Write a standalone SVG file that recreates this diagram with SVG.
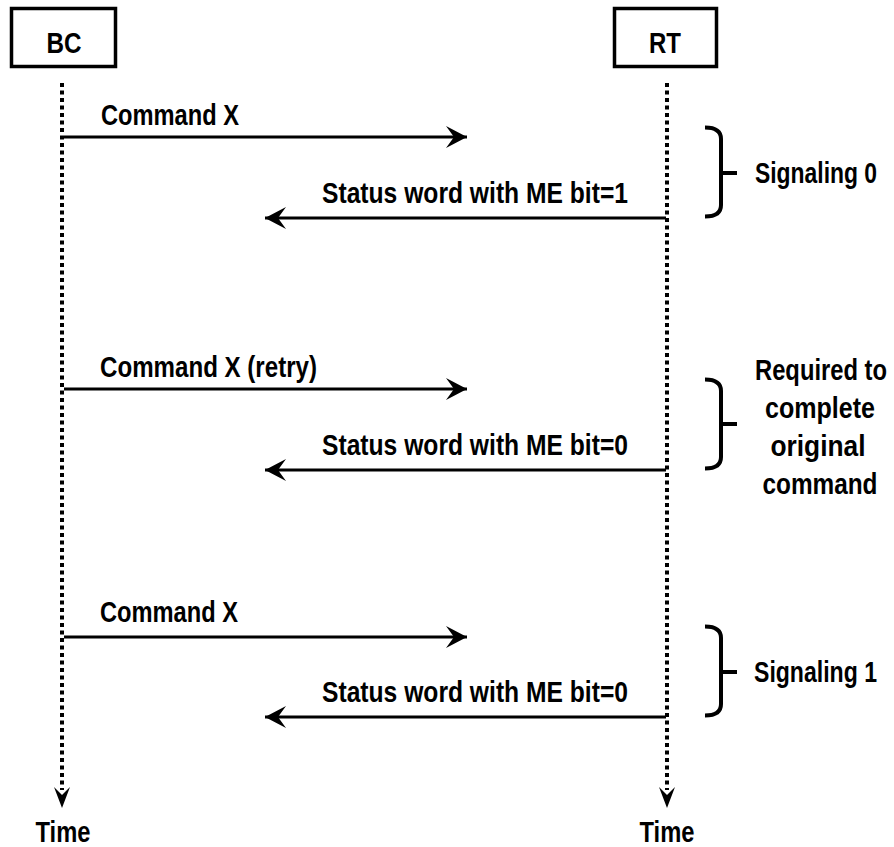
<svg xmlns="http://www.w3.org/2000/svg" width="894" height="847" viewBox="0 0 894 847">
<style>
  text { font-family: "Liberation Sans Narrow", "Liberation Sans", Arial, sans-serif; font-weight: bold; font-size: 29px; fill: #000; }
  .box { fill: #fff; stroke: #000; stroke-width: 3.5; }
  .life { stroke: #000; stroke-width: 4; stroke-dasharray: 4 3.5; fill: none; }
  .msg { stroke: #000; stroke-width: 3; fill: none; }
  .brace { stroke: #000; stroke-width: 4; fill: none; stroke-linecap: butt; }
</style>
<defs>
  <marker id="ah" markerUnits="userSpaceOnUse" markerWidth="26" markerHeight="26" refX="0" refY="0" viewBox="-24 -13 26 26" orient="auto">
    <path d="M0,0 L-21,-11 L-13,0 L-21,11 Z" fill="#000"/>
  </marker>
</defs>
<rect width="894" height="847" fill="#fff"/>

<g id="node-BC">
  <rect class="box" x="11.5" y="8.5" width="104" height="58"/>
  <text x="64" y="53" text-anchor="middle" textLength="35" lengthAdjust="spacingAndGlyphs">BC</text>
</g>
<g id="node-RT">
  <rect class="box" x="614.5" y="8.5" width="102" height="58"/>
  <text x="665" y="53" text-anchor="middle" textLength="32" lengthAdjust="spacingAndGlyphs">RT</text>
</g>

<g id="lifelines">
  <line class="life" x1="62" y1="83" x2="62" y2="790"/>
  <line class="life" x1="667" y1="83" x2="667" y2="790"/>
  <path d="M62,808 L54,787 L62,795 L70,787 Z" fill="#000"/>
  <path d="M667,808 L659,787 L667,795 L675,787 Z" fill="#000"/>
</g>

<g id="connectors">
  <line class="msg" x1="64" y1="137" x2="467" y2="137" marker-end="url(#ah)"/>
  <line class="msg" x1="666" y1="218" x2="265" y2="218" marker-end="url(#ah)"/>
  <line class="msg" x1="64" y1="389" x2="467" y2="389" marker-end="url(#ah)"/>
  <line class="msg" x1="666" y1="470" x2="265" y2="470" marker-end="url(#ah)"/>
  <line class="msg" x1="64" y1="637" x2="467" y2="637" marker-end="url(#ah)"/>
  <line class="msg" x1="666" y1="717" x2="265" y2="717" marker-end="url(#ah)"/>
</g>

<g id="labels">
  <text x="101" y="125" textLength="138" lengthAdjust="spacingAndGlyphs">Command X</text>
  <text x="322" y="203" textLength="306" lengthAdjust="spacingAndGlyphs">Status word with ME bit=1</text>
  <text x="100" y="377" textLength="217" lengthAdjust="spacingAndGlyphs">Command X (retry)</text>
  <text x="322" y="455" textLength="306" lengthAdjust="spacingAndGlyphs">Status word with ME bit=0</text>
  <text x="100" y="622" textLength="138" lengthAdjust="spacingAndGlyphs">Command X</text>
  <text x="322" y="702" textLength="306" lengthAdjust="spacingAndGlyphs">Status word with ME bit=0</text>
</g>

<g id="brace-signaling0">
  <path class="brace" d="M705,127.5 Q721,127.5 721,139 L721,205 Q721,216.5 705,216.5 M721,173 L737,173"/>
  <text x="755" y="183" textLength="122" lengthAdjust="spacingAndGlyphs">Signaling 0</text>
</g>
<g id="brace-required">
  <path class="brace" d="M705,379.5 Q721,379.5 721,391 L721,457 Q721,468.5 705,468.5 M721,424 L737,424"/>
  <text x="821" y="380" text-anchor="middle" textLength="132" lengthAdjust="spacingAndGlyphs">Required to</text>
  <text x="820" y="418" text-anchor="middle" textLength="110" lengthAdjust="spacingAndGlyphs">complete</text>
  <text x="818" y="456" text-anchor="middle" textLength="95" lengthAdjust="spacingAndGlyphs">original</text>
  <text x="820" y="494" text-anchor="middle" textLength="115" lengthAdjust="spacingAndGlyphs">command</text>
</g>
<g id="brace-signaling1">
  <path class="brace" d="M705,626.5 Q721,626.5 721,638 L721,704 Q721,715.5 705,715.5 M721,672 L737,672"/>
  <text x="754" y="682" textLength="123" lengthAdjust="spacingAndGlyphs">Signaling 1</text>
</g>

<g id="time-labels">
  <text x="63" y="842" text-anchor="middle" textLength="55" lengthAdjust="spacingAndGlyphs">Time</text>
  <text x="667" y="842" text-anchor="middle" textLength="55" lengthAdjust="spacingAndGlyphs">Time</text>
</g>
</svg>
